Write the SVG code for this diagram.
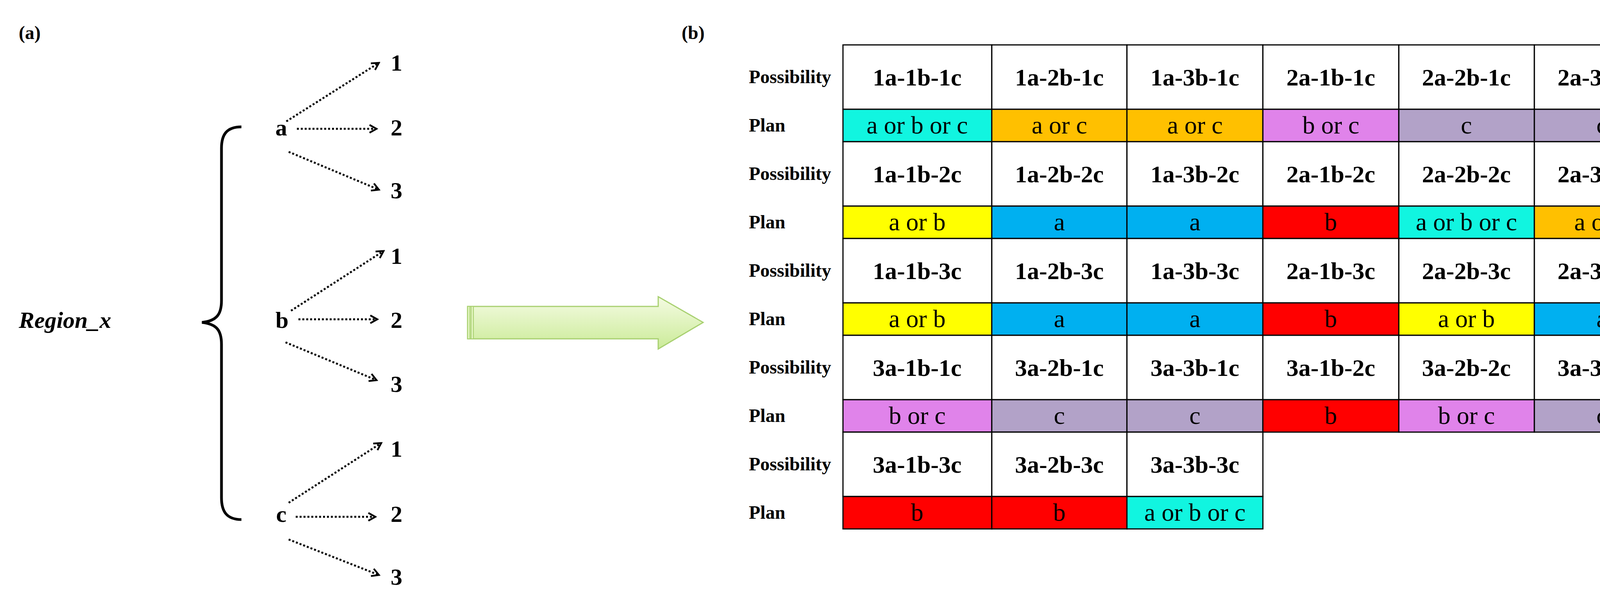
<svg xmlns="http://www.w3.org/2000/svg" width="4325" height="1532" viewBox="0 0 4325 1532">
<style>
.t{font-family:"Liberation Serif",serif;fill:#000}
.b{font-weight:bold}
.lbl{font-family:"Liberation Serif",serif;font-weight:bold;font-size:48px}
.num{font-family:"Liberation Serif",serif;font-weight:bold;font-size:60px}
.poss{font-family:"Liberation Serif",serif;font-weight:bold;font-size:62px;text-anchor:middle}
.plan{font-family:"Liberation Serif",serif;font-size:64px;text-anchor:middle}
.cell{stroke:#000;stroke-width:3}
.conn{stroke:#000;stroke-width:5;stroke-dasharray:5 5;fill:none;marker-end:url(#ah)}
.W{fill:#fff}.C{fill:#11f5e0}.O{fill:#ffc000}.M{fill:#e083ea}.L{fill:#b2a2c8}.Y{fill:#ffff00}.B{fill:#00b0f0}.R{fill:#ff0000}
</style>
<defs>
<marker id="ah" markerWidth="26" markerHeight="26" refX="22" refY="13" orient="auto" markerUnits="userSpaceOnUse" viewBox="0 0 26 26">
<path d="M4,3 L22,13 L4,23" fill="none" stroke="#000" stroke-width="4.5"/>
</marker>
<linearGradient id="gg" x1="0" y1="0" x2="0" y2="1">
<stop offset="0" stop-color="#f4fbe2"/><stop offset="1" stop-color="#cbeb98"/>
</linearGradient>
</defs>
<rect width="4325" height="1532" fill="#fff"/>
<text class="lbl" x="48" y="100">(a)</text>
<text class="lbl" x="1745" y="100">(b)</text>
<g id="region"><text class="t b" x="48" y="840" font-size="60" font-style="italic">Region_x</text></g>
<g id="brace"><path d="M618,325 C580,325 567,345 567,380 L567,770 C567,805 555,822 517,826 C555,830 567,847 567,882 L567,1275 C567,1310 580,1331 618,1331" fill="none" stroke="#000" stroke-width="7"/></g>
<g id="node-a"><text class="num" x="720" y="347" text-anchor="middle">a</text></g>
<g id="node-b"><text class="num" x="722" y="840" text-anchor="middle">b</text></g>
<g id="node-c"><text class="num" x="720" y="1337" text-anchor="middle">c</text></g>
<g id="a1"><text class="num" x="1000" y="181">1</text></g>
<g id="a2"><text class="num" x="1000" y="347">2</text></g>
<g id="a3"><text class="num" x="1000" y="508">3</text></g>
<g id="b1"><text class="num" x="1000" y="676">1</text></g>
<g id="b2"><text class="num" x="1000" y="840">2</text></g>
<g id="b3"><text class="num" x="1000" y="1004">3</text></g>
<g id="c1"><text class="num" x="1000" y="1170">1</text></g>
<g id="c2"><text class="num" x="1000" y="1337">2</text></g>
<g id="c3"><text class="num" x="1000" y="1498">3</text></g>
<g id="connectors">
<line class="conn" x1="733" y1="311" x2="970" y2="161"/>
<line class="conn" x1="760" y1="330" x2="964" y2="330"/>
<line class="conn" x1="739" y1="389" x2="970" y2="486"/>
<line class="conn" x1="745" y1="796" x2="982" y2="643"/>
<line class="conn" x1="764" y1="818" x2="966" y2="818"/>
<line class="conn" x1="731" y1="877" x2="964" y2="974"/>
<line class="conn" x1="739" y1="1288" x2="976" y2="1135"/>
<line class="conn" x1="757" y1="1324" x2="961" y2="1324"/>
<line class="conn" x1="739" y1="1382" x2="970" y2="1473"/>
</g>
<g id="big-arrow">
<path d="M1197,785 L1685,785 L1685,760 L1800,826 L1685,894 L1685,868 L1197,868 Z" fill="url(#gg)" stroke="#a8d070" stroke-width="3"/>
<rect x="1197" y="785" width="6" height="83" fill="#dff3bb" stroke="#a8d070" stroke-width="2"/>
<rect x="1206" y="785" width="6" height="83" fill="#dff3bb" stroke="#a8d070" stroke-width="2"/>
</g>
<g id="row-labels">
<text class="lbl" x="1917" y="213">Possibility</text>
<text class="lbl" x="1917" y="337">Plan</text>
<text class="lbl" x="1917" y="461">Possibility</text>
<text class="lbl" x="1917" y="585">Plan</text>
<text class="lbl" x="1917" y="709">Possibility</text>
<text class="lbl" x="1917" y="833">Plan</text>
<text class="lbl" x="1917" y="957">Possibility</text>
<text class="lbl" x="1917" y="1081">Plan</text>
<text class="lbl" x="1917" y="1205">Possibility</text>
<text class="lbl" x="1917" y="1329">Plan</text>
</g>
<g id="table">
<g id="p1-1"><rect class="cell W" x="2158" y="115" width="381" height="165"/><text class="poss" x="2348" y="219">1a-1b-1c</text></g>
<g id="p1-2"><rect class="cell W" x="2539" y="115" width="346" height="165"/><text class="poss" x="2712" y="219">1a-2b-1c</text></g>
<g id="p1-3"><rect class="cell W" x="2885" y="115" width="348" height="165"/><text class="poss" x="3059" y="219">1a-3b-1c</text></g>
<g id="p1-4"><rect class="cell W" x="3233" y="115" width="348" height="165"/><text class="poss" x="3407" y="219">2a-1b-1c</text></g>
<g id="p1-5"><rect class="cell W" x="3581" y="115" width="347" height="165"/><text class="poss" x="3754" y="219">2a-2b-1c</text></g>
<g id="p1-6"><rect class="cell W" x="3928" y="115" width="346" height="165"/><text class="poss" x="4101" y="219">2a-3b-1c</text></g>
<g id="q1-1"><rect class="cell C" x="2158" y="280" width="381" height="83"/><text class="plan" x="2348" y="342">a or b or c</text></g>
<g id="q1-2"><rect class="cell O" x="2539" y="280" width="346" height="83"/><text class="plan" x="2712" y="342">a or c</text></g>
<g id="q1-3"><rect class="cell O" x="2885" y="280" width="348" height="83"/><text class="plan" x="3059" y="342">a or c</text></g>
<g id="q1-4"><rect class="cell M" x="3233" y="280" width="348" height="83"/><text class="plan" x="3407" y="342">b or c</text></g>
<g id="q1-5"><rect class="cell L" x="3581" y="280" width="347" height="83"/><text class="plan" x="3754" y="342">c</text></g>
<g id="q1-6"><rect class="cell L" x="3928" y="280" width="346" height="83"/><text class="plan" x="4101" y="342">c</text></g>
<g id="p2-1"><rect class="cell W" x="2158" y="363" width="381" height="165"/><text class="poss" x="2348" y="467">1a-1b-2c</text></g>
<g id="p2-2"><rect class="cell W" x="2539" y="363" width="346" height="165"/><text class="poss" x="2712" y="467">1a-2b-2c</text></g>
<g id="p2-3"><rect class="cell W" x="2885" y="363" width="348" height="165"/><text class="poss" x="3059" y="467">1a-3b-2c</text></g>
<g id="p2-4"><rect class="cell W" x="3233" y="363" width="348" height="165"/><text class="poss" x="3407" y="467">2a-1b-2c</text></g>
<g id="p2-5"><rect class="cell W" x="3581" y="363" width="347" height="165"/><text class="poss" x="3754" y="467">2a-2b-2c</text></g>
<g id="p2-6"><rect class="cell W" x="3928" y="363" width="346" height="165"/><text class="poss" x="4101" y="467">2a-3b-2c</text></g>
<g id="q2-1"><rect class="cell Y" x="2158" y="528" width="381" height="83"/><text class="plan" x="2348" y="590">a or b</text></g>
<g id="q2-2"><rect class="cell B" x="2539" y="528" width="346" height="83"/><text class="plan" x="2712" y="590">a</text></g>
<g id="q2-3"><rect class="cell B" x="2885" y="528" width="348" height="83"/><text class="plan" x="3059" y="590">a</text></g>
<g id="q2-4"><rect class="cell R" x="3233" y="528" width="348" height="83"/><text class="plan" x="3407" y="590">b</text></g>
<g id="q2-5"><rect class="cell C" x="3581" y="528" width="347" height="83"/><text class="plan" x="3754" y="590">a or b or c</text></g>
<g id="q2-6"><rect class="cell O" x="3928" y="528" width="346" height="83"/><text class="plan" x="4101" y="590">a or c</text></g>
<g id="p3-1"><rect class="cell W" x="2158" y="611" width="381" height="165"/><text class="poss" x="2348" y="715">1a-1b-3c</text></g>
<g id="p3-2"><rect class="cell W" x="2539" y="611" width="346" height="165"/><text class="poss" x="2712" y="715">1a-2b-3c</text></g>
<g id="p3-3"><rect class="cell W" x="2885" y="611" width="348" height="165"/><text class="poss" x="3059" y="715">1a-3b-3c</text></g>
<g id="p3-4"><rect class="cell W" x="3233" y="611" width="348" height="165"/><text class="poss" x="3407" y="715">2a-1b-3c</text></g>
<g id="p3-5"><rect class="cell W" x="3581" y="611" width="347" height="165"/><text class="poss" x="3754" y="715">2a-2b-3c</text></g>
<g id="p3-6"><rect class="cell W" x="3928" y="611" width="346" height="165"/><text class="poss" x="4101" y="715">2a-3b-3c</text></g>
<g id="q3-1"><rect class="cell Y" x="2158" y="776" width="381" height="83"/><text class="plan" x="2348" y="838">a or b</text></g>
<g id="q3-2"><rect class="cell B" x="2539" y="776" width="346" height="83"/><text class="plan" x="2712" y="838">a</text></g>
<g id="q3-3"><rect class="cell B" x="2885" y="776" width="348" height="83"/><text class="plan" x="3059" y="838">a</text></g>
<g id="q3-4"><rect class="cell R" x="3233" y="776" width="348" height="83"/><text class="plan" x="3407" y="838">b</text></g>
<g id="q3-5"><rect class="cell Y" x="3581" y="776" width="347" height="83"/><text class="plan" x="3754" y="838">a or b</text></g>
<g id="q3-6"><rect class="cell B" x="3928" y="776" width="346" height="83"/><text class="plan" x="4101" y="838">a</text></g>
<g id="p4-1"><rect class="cell W" x="2158" y="859" width="381" height="165"/><text class="poss" x="2348" y="963">3a-1b-1c</text></g>
<g id="p4-2"><rect class="cell W" x="2539" y="859" width="346" height="165"/><text class="poss" x="2712" y="963">3a-2b-1c</text></g>
<g id="p4-3"><rect class="cell W" x="2885" y="859" width="348" height="165"/><text class="poss" x="3059" y="963">3a-3b-1c</text></g>
<g id="p4-4"><rect class="cell W" x="3233" y="859" width="348" height="165"/><text class="poss" x="3407" y="963">3a-1b-2c</text></g>
<g id="p4-5"><rect class="cell W" x="3581" y="859" width="347" height="165"/><text class="poss" x="3754" y="963">3a-2b-2c</text></g>
<g id="p4-6"><rect class="cell W" x="3928" y="859" width="346" height="165"/><text class="poss" x="4101" y="963">3a-3b-2c</text></g>
<g id="q4-1"><rect class="cell M" x="2158" y="1024" width="381" height="83"/><text class="plan" x="2348" y="1086">b or c</text></g>
<g id="q4-2"><rect class="cell L" x="2539" y="1024" width="346" height="83"/><text class="plan" x="2712" y="1086">c</text></g>
<g id="q4-3"><rect class="cell L" x="2885" y="1024" width="348" height="83"/><text class="plan" x="3059" y="1086">c</text></g>
<g id="q4-4"><rect class="cell R" x="3233" y="1024" width="348" height="83"/><text class="plan" x="3407" y="1086">b</text></g>
<g id="q4-5"><rect class="cell M" x="3581" y="1024" width="347" height="83"/><text class="plan" x="3754" y="1086">b or c</text></g>
<g id="q4-6"><rect class="cell L" x="3928" y="1024" width="346" height="83"/><text class="plan" x="4101" y="1086">c</text></g>
<g id="p5-1"><rect class="cell W" x="2158" y="1107" width="381" height="165"/><text class="poss" x="2348" y="1211">3a-1b-3c</text></g>
<g id="p5-2"><rect class="cell W" x="2539" y="1107" width="346" height="165"/><text class="poss" x="2712" y="1211">3a-2b-3c</text></g>
<g id="p5-3"><rect class="cell W" x="2885" y="1107" width="348" height="165"/><text class="poss" x="3059" y="1211">3a-3b-3c</text></g>
<g id="q5-1"><rect class="cell R" x="2158" y="1272" width="381" height="83"/><text class="plan" x="2348" y="1334">b</text></g>
<g id="q5-2"><rect class="cell R" x="2539" y="1272" width="346" height="83"/><text class="plan" x="2712" y="1334">b</text></g>
<g id="q5-3"><rect class="cell C" x="2885" y="1272" width="348" height="83"/><text class="plan" x="3059" y="1334">a or b or c</text></g>
</g>
</svg>
